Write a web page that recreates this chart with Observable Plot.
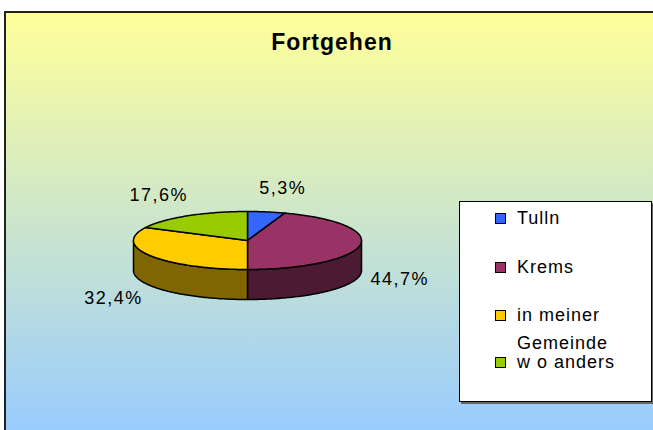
<!DOCTYPE html>
<html>
<head>
<meta charset="utf-8">
<script src="https://cdn.jsdelivr.net/npm/d3@7"></script>
<script src="https://cdn.jsdelivr.net/npm/@observablehq/plot@0.6"></script>
<style>
  html, body { margin: 0; padding: 0; background: #fff; }
  #wrap { position: relative; width: 653px; height: 430px; overflow: hidden; background: #fff;
          font-family: "Liberation Sans", Arial, sans-serif; }
  #frame { position: absolute; left: 4px; top: 11px; width: 700px; height: 460px;
           border-left: 2px solid #222; border-top: 2px solid #222;
           background: linear-gradient(to bottom, #FFFF99 0px, #99CCFF 419px); }
  #chart { position: absolute; left: 0; top: 0; }
  #legend { position: absolute; left: 459px; top: 201px; width: 191px; height: 199px;
            background: #fff; border: 1px solid #000; box-shadow: 2px 2px 0 #666; }
  .sw { position: absolute; left: 35px; width: 8.5px; height: 8.5px; border: 1.5px solid #000; }
  .lt { position: absolute; left: 57px; font-size: 18px; line-height: 18px; color: #000;
        white-space: nowrap; letter-spacing: 1px; }
</style>
</head>
<body>
<div id="wrap">
  <div id="frame"></div>
  <div id="chart"></div>
  <div id="legend"></div>
</div>
<script>
// ---- data ----
const title = "Fortgehen";
const categories = ["Tulln", "Krems", "in meiner Gemeinde", "w o anders"];
const legendLines = [["Tulln"], ["Krems"], ["in meiner", "Gemeinde"], ["w o anders"]];
const values = [5.3, 44.7, 32.4, 17.6];
const valueLabels = ["5,3%", "44,7%", "32,4%", "17,6%"];
const topColors = ["#3366FF", "#993366", "#FFCC00", "#99CC00"];
const sideColors = ["#1A3380", "#4D1A33", "#806600", "#4D6600"];

// ---- layout ----
const RX = 114, RY = 29, CX = 247, CY = 240;
const DEPTH = 30 / RY;
const FONT = "Liberation Sans, Arial, sans-serif";

const arcs = d3.pie().sort(null).value(d => d)(values);

function arcPts(a0, a1, dz) {
  const n = Math.max(2, Math.ceil((a1 - a0) / (Math.PI / 180)));
  return d3.range(n + 1).map(k => {
    const a = a0 + (a1 - a0) * k / n;
    return {x: Math.sin(a), y: Math.cos(a) - dz};
  });
}

const sides = [];
arcs.forEach(a => {
  const a0 = Math.max(a.startAngle, Math.PI / 2);
  const a1 = Math.min(a.endAngle, 3 * Math.PI / 2);
  if (a0 < a1) sides.push({i: a.index, pts: [...arcPts(a0, a1, 0), ...arcPts(a0, a1, DEPTH).reverse()]});
});
const tops = arcs.map(a => ({i: a.index, pts: [{x: 0, y: 0}, ...arcPts(a.startAngle, a.endAngle, 0)]}));

function labelPos(a) {
  const m = (a.startAngle + a.endAngle) / 2;
  const s = Math.sin(m), c = Math.cos(m);
  const ox = Math.sign(s) * Math.sqrt(Math.abs(s)) * 40;
  const oy = c * 24;
  return {x: s + ox / RX, y: c - (c < 0 ? DEPTH : 0) + oy / RY};
}

const slab = (p, colors) => Plot.line(p.pts, {
  x: "x", y: "y", fill: colors[p.i], stroke: "#000", strokeWidth: 1.5,
  curve: "linear-closed", strokeLinejoin: "round"
});

const plot = Plot.plot({
  width: 653, height: 430,
  margin: 0,
  x: {domain: [-1, 1], range: [CX - RX, CX + RX], axis: null},
  y: {domain: [-1, 1], range: [CY + RY, CY - RY], axis: null},
  style: {background: "transparent", overflow: "visible", fontFamily: FONT},
  marks: [
    ...sides.map(p => slab(p, sideColors)),
    ...tops.map(p => slab(p, topColors)),
    Plot.text(arcs, {
      x: a => labelPos(a).x, y: a => labelPos(a).y,
      text: a => valueLabels[a.index],
      fontSize: 18, fill: "#000", fontFamily: FONT
    }),
    Plot.text([title], {
      frameAnchor: "top", dy: 33, dx: 5, text: d => d,
      fontSize: 23, fontWeight: "bold", fill: "#000", fontFamily: FONT
    })
  ]
});
const textGroups = plot.querySelectorAll('g[aria-label="text"]');
if (textGroups[0]) textGroups[0].style.letterSpacing = "1.5px";
if (textGroups[1]) textGroups[1].style.letterSpacing = "1px";
document.getElementById("chart").appendChild(plot);

// ---- legend ----
const legend = document.getElementById("legend");
const swatchTops = [11, 60, 108, 155];
const lineTops = [[7], [56], [104, 132], [151]];
categories.forEach((c, i) => {
  const sw = document.createElement("div");
  sw.className = "sw";
  sw.style.top = swatchTops[i] + "px";
  sw.style.background = topColors[i];
  legend.appendChild(sw);
  legendLines[i].forEach((t, j) => {
    const s = document.createElement("div");
    s.className = "lt";
    s.style.top = lineTops[i][j] + "px";
    s.textContent = t;
    legend.appendChild(s);
  });
});
</script>
</body>
</html>
